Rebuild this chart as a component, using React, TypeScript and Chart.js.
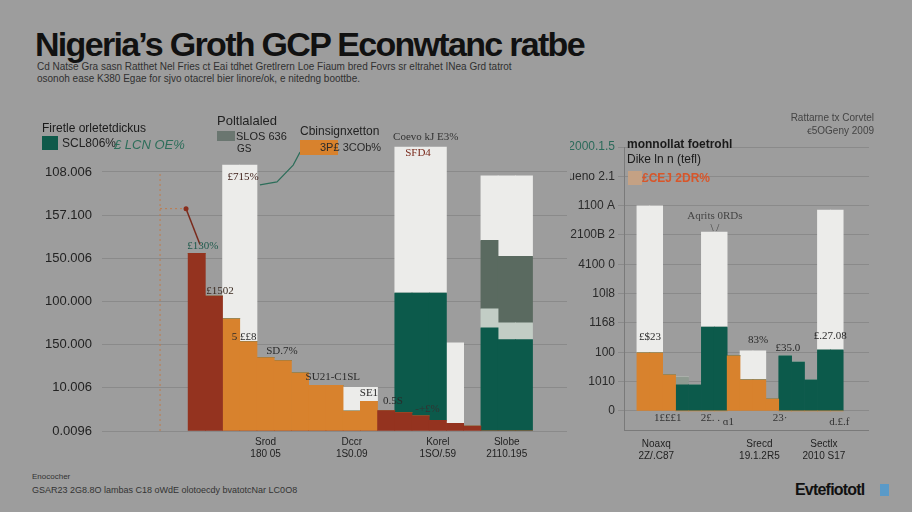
import React, { useEffect, useRef } from "react";
import { Chart, registerables } from "chart.js";
Chart.register(...registerables);

// ---------- Left panel data (20 bar slots) ----------
const leftYLabels = ["0.0096", "10.006", "150.000", "100.000", "150.006", "157.100", "108.006"];
const leftRed = [82.3, 62.5, 0, 0, 0, 0, 0, 0, 0, 0, 0, 9.5, 8.5, 7, 5, 3.5, 2.3, 0, 0, 0];
const leftOrange = [0, 0, 52, 41.4, 34, 32.6, 27, 21.1, 21.1, 9.2, 13.8, 0, 0, 0, 0, 0, 0, 0, 0, 0];
const leftTeal = [0, 0, 0, 0, 0, 0, 0, 0, 0, 0, 0, 0, 55.4, 56.9, 58.9, 0, 0, 47.8, 42.3, 42.3];
const leftLightSage = [0, 0, 0, 0, 0, 0, 0, 0, 0, 0, 0, 0, 0, 0, 0, 0, 0, 8.8, 7.8, 7.8];
const leftSage = [0, 0, 0, 0, 0, 0, 0, 0, 0, 0, 0, 0, 0, 0, 0, 0, 0, 31.7, 30.8, 30.8];
const leftWhite = [0, 0, 71.2, 81.8, 0, 0, 0, 0, 0, 11, 6.4, 0, 67.6, 67.6, 67.6, 37.4, 0, 29.9, 37.3, 37.3];
const leftXLabels: Record<number, string[]> = {
  9: ["Srod", "180 05"],
  14: ["Dccr", "1S0.09"],
  19: ["Korel", "1SO/.59"],
  23: ["Slobe", "2110.195"],
};
const leftNotes = [
  { k: 5.36, v: 85.5, text: "£130%", color: "#1f5a4c" },
  { k: 6.35, v: 64.8, text: "£1502", color: "#3a2a20" },
  { k: 7.75, v: 43.7, text: "5 ££8", color: "#2a2a2a" },
  { k: 9.95, v: 37.2, text: "SD.7%", color: "#2a2a2a" },
  { k: 12.9, v: 24.8, text: "SU21-C1SL", color: "#2a2a2a" },
  { k: 15.0, v: 17.5, text: "SE1", color: "#2a2a2a" },
  { k: 16.4, v: 13.8, text: "0.5S", color: "#2a2a2a" },
  { k: 7.69, v: 117.7, text: "£715%", color: "#3a1a14" },
  { k: 17.85, v: 128.7, text: "SFD4", color: "#7a2a1c" },
  { k: 18.3, v: 136, text: "Coevo kJ E3%", color: "#333333" },
  { k: 18.4, v: 10.1, text: "-+£%", color: "#333333" },
];

// ---------- Right panel data (16 bar slots) ----------
const rightYLabels = ["0", "1010", "100", "1168", "10l8", "4100 0", "2100B 2", "1100 A", "ueno 2.1", "2000.1.5"];
const rightOrange = [19.8, 19.8, 12.3, 0, 0, 0, 0, 18.8, 10.6, 10.6, 4.1, 0, 0, 0, 0, 0];
const rightTeal = [0, 0, 0, 8.9, 8.9, 28.6, 28.6, 0, 0, 0, 0, 18.8, 16.7, 10.6, 20.8, 20.8];
const rightGrey = [0, 0, 0, 2.7, 0, 0, 0, 0, 0, 0, 0, 0, 0, 0, 0, 0];
const rightWhite = [50.1, 50.1, 0, 0, 0, 32.4, 32.4, 0, 9.9, 9.9, 0, 0, 0, 0, 47.7, 47.7];
const rightXLabels: Record<number, string[]> = {
  2: ["Noaxq", "2Z/.C87"],
  10: ["Srecd", "19.1.2R5"],
  15: ["Sectlx", "2010 S17"],
};
const rightNotes = [
  { k: 1.52, v: 25.2, text: "£$23", color: "#2a2a2a" },
  { k: 9.9, v: 24.2, text: "83%", color: "#2a2a2a" },
  { k: 12.2, v: 21.5, text: "£35.0", color: "#2a2a2a" },
  { k: 15.5, v: 25.6, text: "£.27.08", color: "#2a2a2a" },
  { k: 6.55, v: 66.5, text: "Aqrits 0RDs", color: "#444444" },
  { k: 6.55, v: 62.4, text: "\\ /", color: "#444444" },
  { k: 2.9, v: -2.4, text: "1£££1", color: "#333333" },
  { k: 6.2, v: -2.4, text: "2£. .", color: "#333333" },
  { k: 7.6, v: -3.8, text: "ɑ1", color: "#333333" },
  { k: 11.6, v: -2.4, text: "23·", color: "#333333" },
  { k: 16.2, v: -3.8, text: "d.£.f", color: "#333333" },
];

const COLORS = {
  red: "#94331f",
  orange: "#d8822d",
  white: "#ececea",
  teal: "#0c5a4b",
  sage: "#5a6a60",
  lightSage: "#c2cdc5",
  grey: "#8e9a90",
  grid: "#8a8a8a",
};

const pad = (arr: number[], lead: number, total: number) => {
  const out: (number | null)[] = [];
  for (let i = 0; i < total; i++) {
    const j = i - lead;
    out.push(j >= 0 && j < arr.length ? arr[j] : null);
  }
  return out;
};

const notesPlugin = (notes: { k: number; v: number; text: string; color: string }[], extra?: (c: any) => void) => ({
  id: "notes",
  afterDatasetsDraw(chart: any) {
    const ctx = chart.ctx;
    const xs = chart.scales.x;
    const ys = chart.scales.y;
    if (extra) extra(chart);
    ctx.save();
    ctx.font = "11px 'Liberation Serif', serif";
    ctx.textAlign = "center";
    ctx.textBaseline = "middle";
    for (const n of notes) {
      ctx.fillStyle = n.color;
      ctx.fillText(n.text, xs.getPixelForValue(n.k), ys.getPixelForValue(n.v));
    }
    ctx.restore();
  },
});

const leftExtra = (chart: any) => {
  const ctx = chart.ctx;
  const xs = chart.scales.x;
  const ys = chart.scales.y;
  const X = (k: number) => xs.getPixelForValue(k);
  const Y = (v: number) => ys.getPixelForValue(v);
  ctx.save();
  ctx.strokeStyle = "#c07a4a";
  ctx.lineWidth = 1;
  ctx.setLineDash([2, 3]);
  ctx.beginPath();
  ctx.moveTo(X(2.87), Y(0));
  ctx.lineTo(X(2.87), Y(120));
  ctx.moveTo(X(2.87), Y(103));
  ctx.lineTo(X(4.3), Y(103));
  ctx.stroke();
  ctx.setLineDash([]);
  ctx.strokeStyle = "#7a2a1c";
  ctx.lineWidth = 1.5;
  ctx.beginPath();
  ctx.moveTo(X(4.38), Y(103));
  ctx.lineTo(X(5.19), Y(86.4));
  ctx.stroke();
  ctx.fillStyle = "#8a2e1d";
  ctx.beginPath();
  ctx.arc(X(4.38), Y(103), 2.5, 0, Math.PI * 2);
  ctx.fill();
  ctx.strokeStyle = "#2d6e5a";
  ctx.lineWidth = 1.2;
  ctx.beginPath();
  ctx.moveTo(X(8.67), Y(114));
  ctx.lineTo(X(9.66), Y(115.4));
  ctx.lineTo(X(10.6), Y(123.2));
  ctx.lineTo(X(11), Y(129.2));
  ctx.stroke();
  ctx.restore();
};

function LeftChart() {
  const ref = useRef<HTMLCanvasElement>(null);
  useEffect(() => {
    const total = 27;
    const lead = 5;
    const labels = Array.from({ length: total }, (_, i) => leftXLabels[i] || "");
    const ds = (label: string, arr: number[], color: string) => ({
      label,
      data: pad(arr, lead, total),
      backgroundColor: color,
      borderWidth: 0,
      barPercentage: 1,
      categoryPercentage: 1,
    });
    const chart = new Chart(ref.current!, {
      type: "bar",
      data: {
        labels,
        datasets: [
          ds("red", leftRed, COLORS.red),
          ds("orange", leftOrange, COLORS.orange),
          ds("teal", leftTeal, COLORS.teal),
          ds("lightSage", leftLightSage, COLORS.lightSage),
          ds("sage", leftSage, COLORS.sage),
          ds("white", leftWhite, COLORS.white),
        ],
      },
      options: {
        animation: false,
        responsive: false,
        layout: { padding: { top: 6.5, left: 0, right: 0, bottom: 0 } },
        plugins: { legend: { display: false }, tooltip: { enabled: false } },
        scales: {
          x: {
            stacked: true,
            grid: { display: false },
            border: { display: false },
            ticks: {
              autoSkip: false,
              maxRotation: 0,
              color: "#222",
              font: { size: 10, family: "'Liberation Sans', sans-serif" },
              padding: -3,
            },
            afterFit: (s: any) => {
              s.height = 34;
            },
          },
          y: {
            stacked: true,
            min: 0,
            max: 140,
            border: { display: false },
            grid: { color: COLORS.grid, lineWidth: 1, drawTicks: false },
            afterBuildTicks: (s: any) => {
              s.ticks = leftYLabels.map((_, i) => ({ value: i * 20 }));
            },
            ticks: {
              color: "#222",
              padding: 10,
              font: { size: 13, family: "'Liberation Sans', sans-serif" },
              callback: (_v: any, i: number) => leftYLabels[i],
            },
            afterFit: (s: any) => {
              s.width = 82;
            },
          },
        },
      },
      plugins: [notesPlugin(leftNotes, leftExtra)],
    });
    return () => chart.destroy();
  }, []);
  return <canvas ref={ref} width={547} height={354} style={{ position: "absolute", left: 20, top: 111 }} />;
}

function RightChart() {
  const ref = useRef<HTMLCanvasElement>(null);
  useEffect(() => {
    const total = 19;
    const lead = 1;
    const labels = Array.from({ length: total }, (_, i) => rightXLabels[i] || "");
    const ds = (label: string, arr: number[], color: string) => ({
      label,
      data: pad(arr, lead, total),
      backgroundColor: color,
      borderWidth: 0,
      barPercentage: 1,
      categoryPercentage: 1,
    });
    const chart = new Chart(ref.current!, {
      type: "bar",
      data: {
        labels,
        datasets: [
          ds("orange", rightOrange, COLORS.orange),
          ds("teal", rightTeal, COLORS.teal),
          ds("grey", rightGrey, COLORS.grey),
          ds("white", rightWhite, COLORS.white),
        ],
      },
      options: {
        animation: false,
        responsive: false,
        layout: { padding: { top: 17, left: 0, right: 0, bottom: 0 } },
        plugins: { legend: { display: false }, tooltip: { enabled: false } },
        scales: {
          x: {
            stacked: true,
            grid: { display: false },
            border: { display: true, color: "#7a7a7a" },
            ticks: {
              autoSkip: false,
              maxRotation: 0,
              color: "#222",
              font: { size: 10, family: "'Liberation Sans', sans-serif" },
              padding: 0,
            },
            afterFit: (s: any) => {
              s.height = 40;
            },
          },
          y: {
            stacked: true,
            min: -6.5,
            max: 90,
            border: { display: true, color: "#7a7a7a" },
            grid: { color: COLORS.grid, lineWidth: 1, tickLength: 6 },
            afterBuildTicks: (s: any) => {
              s.ticks = rightYLabels.map((_, i) => ({ value: i * 10 }));
            },
            ticks: {
              color: (c: any) => (c.index === 9 ? "#2b6a5a" : "#2a2a2a"),
              padding: 3,
              font: { size: 12, family: "'Liberation Sans', sans-serif" },
              callback: (_v: any, i: number) => rightYLabels[i],
            },
            afterFit: (s: any) => {
              s.width = 54;
            },
          },
        },
      },
      plugins: [notesPlugin(rightNotes)],
    });
    return () => chart.destroy();
  }, []);
  return <canvas ref={ref} width={299} height={340} style={{ position: "absolute", left: 570, top: 130 }} />;
}

const abs = (left: number, top: number, extra: React.CSSProperties = {}): React.CSSProperties => ({
  position: "absolute",
  left,
  top,
  whiteSpace: "nowrap",
  fontFamily: "'Liberation Sans', sans-serif",
  ...extra,
});

export default function App() {
  return (
    <div
      style={{
        position: "fixed",
        left: 0,
        top: 0,
        width: 912,
        height: 512,
        overflow: "hidden",
        background: "#9d9d9d",
      }}
    >
      <div style={abs(35, 24, { fontSize: 34, fontWeight: 700, letterSpacing: -1.7, color: "#111", lineHeight: "40px" })}>
        Nigeria’s Groth GCP Econwtanc ratbe
      </div>
      <div style={abs(37, 61, { fontSize: 10, color: "#303030", lineHeight: "12px" })}>
        Cd Natse Gra sasn Ratthet Nel Fries ct Eai tdhet Gretlrern Loe Fiaum bred Fovrs sr eltrahet INea Grd tatrot
        <br />
        osonoh ease K380 Egae for sjvo otacrel bier linore/ok, e nitedng boottbe.
      </div>

      <LeftChart />
      <RightChart />

      {/* left legends */}
      <div style={abs(42, 121, { fontSize: 12, color: "#1a1a1a" })}>Firetle orletetdickus</div>
      <div style={abs(42, 136, { width: 16, height: 14, background: "#0e5a4a" })} />
      <div style={abs(62, 136, { fontSize: 12, color: "#222" })}>SCL806%</div>
      <div style={abs(114, 137, { fontSize: 13, color: "#2d6e5a", fontStyle: "italic" })}>£ LCN OE%</div>

      <div style={abs(217, 113, { fontSize: 13, color: "#222" })}>Poltlalaled</div>
      <div style={abs(217, 131, { width: 18, height: 10, background: "#6a7670" })} />
      <div style={abs(236, 130, { fontSize: 11, color: "#222" })}>SLOS 636</div>
      <div style={abs(237, 143, { fontSize: 10, color: "#222" })}>GS</div>

      <div style={abs(300, 124, { fontSize: 12, color: "#222" })}>Cbinsignxetton</div>
      <div style={abs(300, 140, { width: 38, height: 15, background: "#d8822d" })} />
      <div style={abs(320, 141, { fontSize: 11, color: "#2a2a2a" })}>3P£ 3COb%</div>

      {/* right legends */}
      <div style={abs(627, 137, { fontSize: 12, color: "#1a1a1a", fontWeight: 700 })}>monnollat foetrohl</div>
      <div style={abs(627, 152, { fontSize: 12, color: "#1a1a1a" })}>Dike ln n (tefl)</div>
      <div style={abs(628, 171, { width: 14, height: 14, background: "#c4a184" })} />
      <div style={abs(642, 171, { fontSize: 12, color: "#d8562a", fontWeight: 700 })}>£CEJ 2DR%</div>
      <div style={abs(0, 111, { width: 874, textAlign: "right", fontSize: 10, color: "#444", lineHeight: "13px" })}>
        Rattarne tx Corvtel
        <br />
        ꞓ5OGeny 2009
      </div>

      {/* footer */}
      <div style={abs(32, 472, { fontSize: 8, color: "#333" })}>Enococher</div>
      <div style={abs(32, 485, { fontSize: 9, color: "#333" })}>
        GSAR23 2G8.8O lambas C18 oWdE olotoecdy bvatotcNar LC0O8
      </div>
      <div style={abs(795, 481, { fontSize: 16, fontWeight: 700, color: "#111", letterSpacing: -0.8 })}>
        Evtefiototl
      </div>
      <div style={abs(880, 484, { width: 9, height: 12, background: "#5a9ac8" })} />
    </div>
  );
}
